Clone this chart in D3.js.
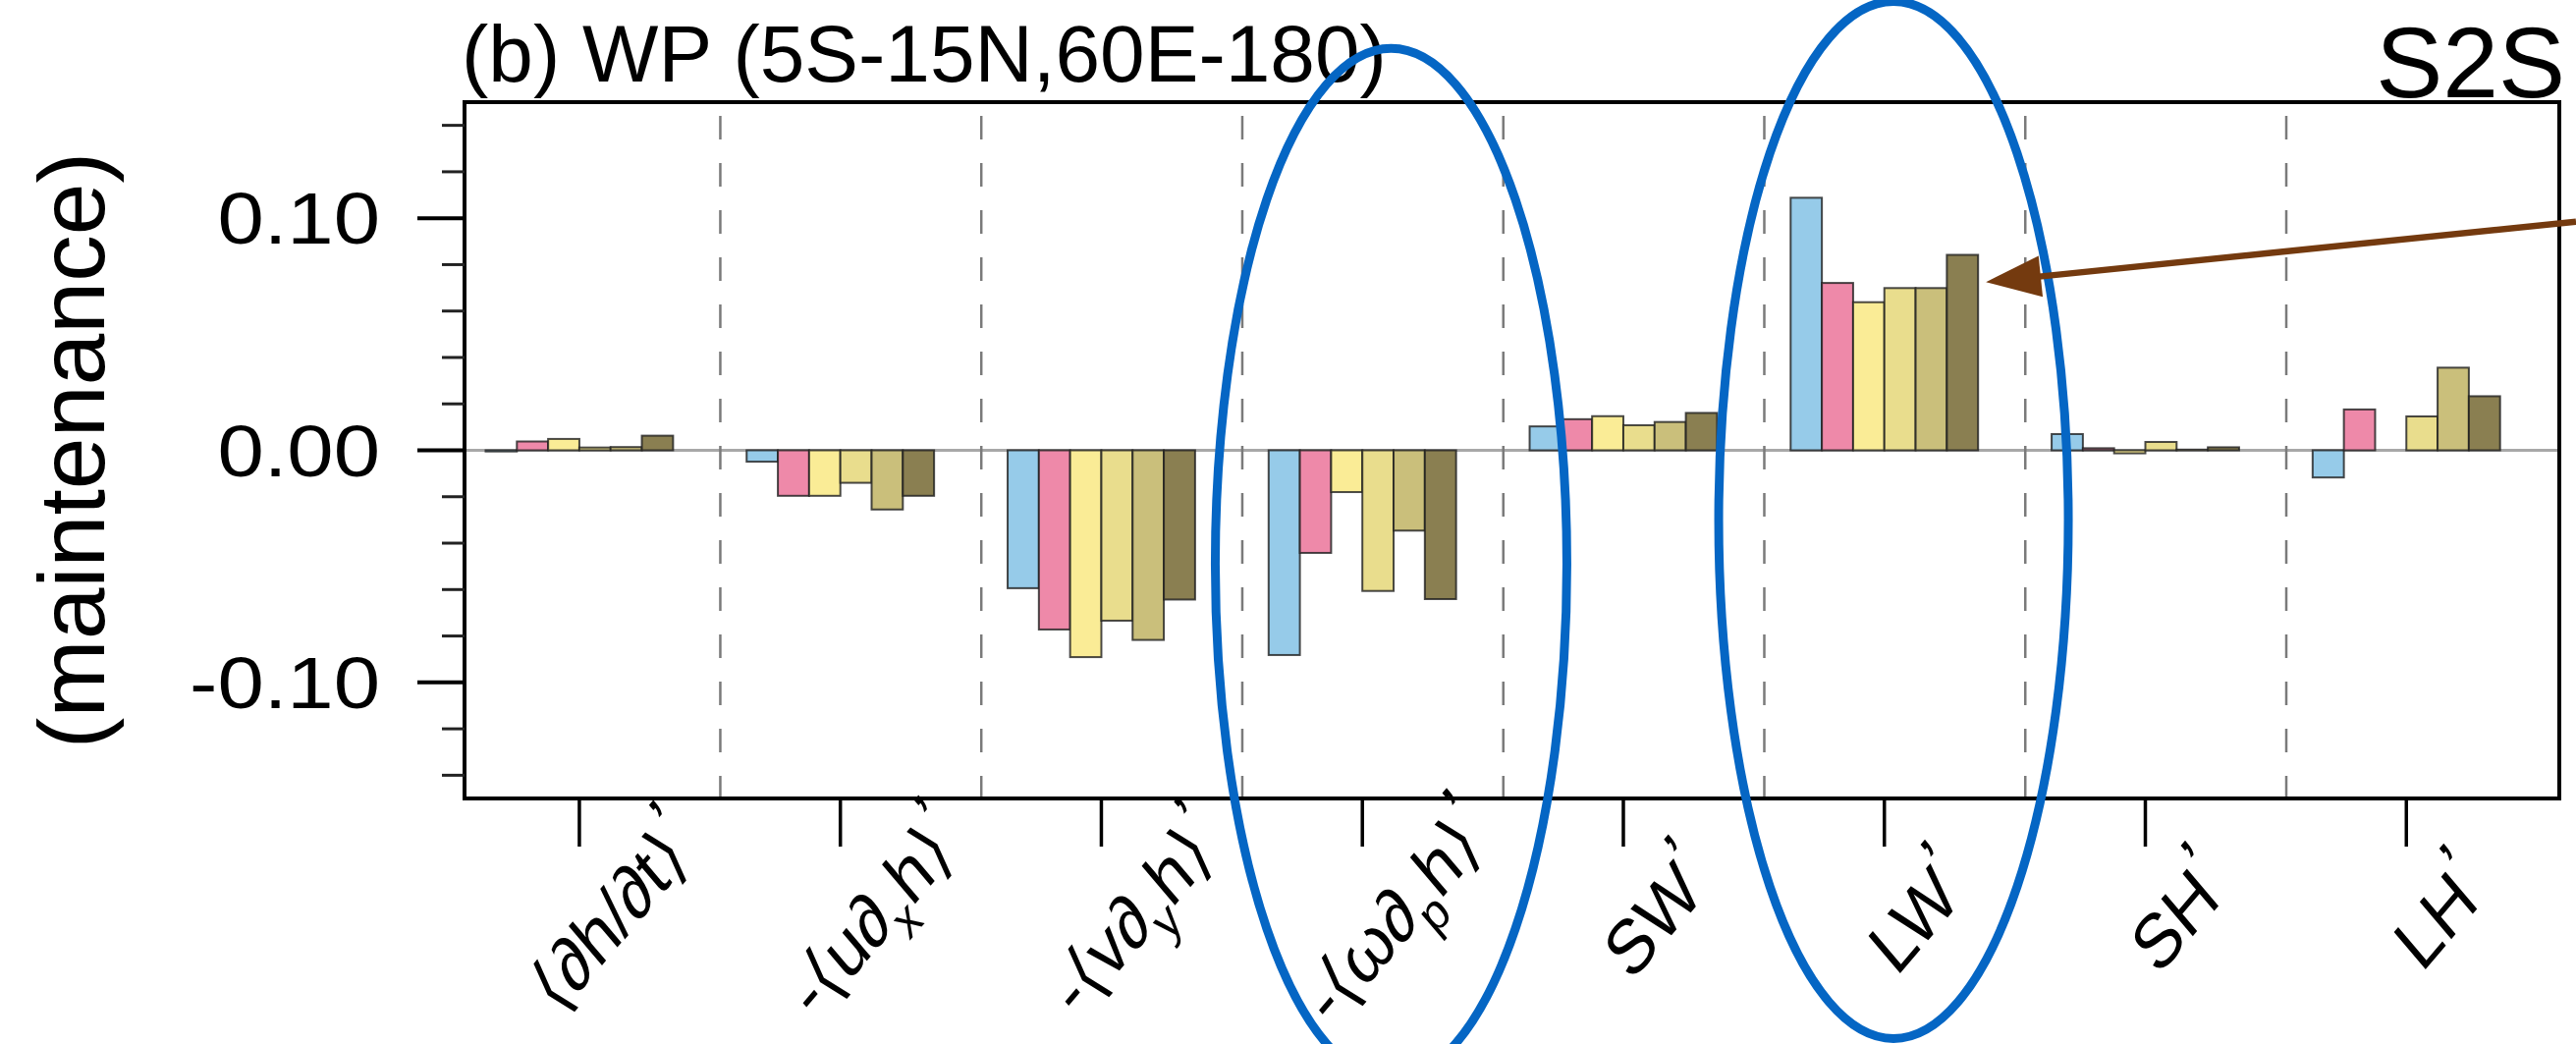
<!DOCTYPE html>
<html>
<head>
<meta charset="utf-8">
<script src="https://cdn.jsdelivr.net/npm/d3@7"></script>
<style>
  body { margin: 0; background: #fff; }
  text { font-family: "Liberation Sans", Arial, "DejaVu Sans", sans-serif; fill: #000; }
</style>
</head>
<body>
<div id="chart"></div>
<script>
const width = 2623, height = 1063;
const plot = {left: 473, right: 2606, top: 104, bottom: 813};

// MSE budget terms (x categories)
const categories = ["dhdt", "udxh", "vdyh", "wdph", "SW", "LW", "SH", "LH"];
// x tick labels: pieces of [text, kind]
const xLabels = [
  [["⟨∂h/∂t⟩", ""], ["’", "sup"]],
  [["-⟨u∂", ""], ["x", "sub"], ["h⟩", ""], ["’", "sup"]],
  [["-⟨v∂", ""], ["y", "sub"], ["h⟩", ""], ["’", "sup"]],
  [["-⟨ω∂", ""], ["p", "sub"], ["h⟩", ""], ["’", "sup"]],
  [["SW", ""], ["’", "sup"]],
  [["LW", ""], ["’", "sup"]],
  [["SH", ""], ["’", "sup"]],
  [["LH", ""], ["’", "sup"]]
];

// six series, one value per category (null = no bar)
const series1 = [-0.0005, -0.0049, -0.0594, -0.0882, 0.0103, 0.1088, 0.0070, -0.0117];
const series2 = [0.0038, -0.0196, -0.0772, -0.0442, 0.0134, 0.0721, 0.0009, 0.0176];
const series3 = [0.0049, -0.0196, -0.0891, -0.0180, 0.0147, 0.0638, -0.0013, null];
const series4 = [0.0012, -0.0140, -0.0734, -0.0606, 0.0108, 0.0699, 0.0036, 0.0146];
const series5 = [0.0014, -0.0255, -0.0817, -0.0346, 0.0122, 0.0699, 0.0003, 0.0356];
const series6 = [0.0063, -0.0196, -0.0643, -0.0641, 0.0161, 0.0842, 0.0013, 0.0233];
const allSeries = [series1, series2, series3, series4, series5, series6];
const seriesColors = ["#96cbe9", "#ee89a9", "#faec96", "#e9dd8d", "#cabf7b", "#8a7f51"];

const yMajor = [-0.10, 0.00, 0.10];
const yMajorLabels = ["-0.10", "0.00", "0.10"];
const yMinor = [-0.14, -0.12, -0.08, -0.06, -0.04, -0.02, 0.02, 0.04, 0.06, 0.08, 0.12, 0.14];

const svg = d3.select("#chart").append("svg")
    .attr("width", width)
    .attr("height", height)
    .style("display", "block");
svg.append("rect").attr("width", width).attr("height", height).attr("fill", "#fff");

// category index -> px
let x = d3.scaleLinear()
    .domain([-0.44, 7.586])
    .range([plot.left, plot.right]);
let y = d3.scaleLinear()
    .domain([-0.15, 0.15])
    .range([plot.bottom, plot.top]);
const barW = 0.1197;   // one bar, in category units

// zero line
svg.append("line")
    .attr("x1", plot.left).attr("x2", plot.right)
    .attr("y1", y(0)).attr("y2", y(0))
    .attr("stroke", "#a8a8a8").attr("stroke-width", 3);

// dashed separators between categories
svg.append("g").selectAll("line")
    .data(d3.range(categories.length - 1))
    .enter().append("line")
    .attr("x1", d => x(d + 0.54)).attr("x2", d => x(d + 0.54))
    .attr("y1", plot.top + 14).attr("y2", plot.bottom)
    .attr("stroke", "#7a7a7a").attr("stroke-width", 2.5)
    .attr("stroke-dasharray", "24,24");

// bars
allSeries.forEach((vals, j) => {
  svg.append("g").selectAll("rect")
      .data(vals.map((v, i) => ({v: v, i: i})).filter(d => d.v !== null))
      .enter().append("rect")
      .attr("x", d => x(d.i + (j - 3) * barW))
      .attr("width", d => x(d.i + (j - 2) * barW) - x(d.i + (j - 3) * barW))
      .attr("y", d => y(Math.max(0, d.v)))
      .attr("height", d => Math.abs(y(d.v) - y(0)))
      .attr("fill", seriesColors[j])
      .attr("stroke", "rgba(30,30,30,0.8)")
      .attr("stroke-width", 2);
});

// frame
svg.append("rect")
    .attr("x", plot.left).attr("y", plot.top)
    .attr("width", plot.right - plot.left).attr("height", plot.bottom - plot.top)
    .attr("fill", "none").attr("stroke", "#000").attr("stroke-width", 4);

// y ticks
svg.append("g").selectAll("line")
    .data(yMajor).enter().append("line")
    .attr("x1", plot.left - 48).attr("x2", plot.left)
    .attr("y1", d => y(d)).attr("y2", d => y(d))
    .attr("stroke", "#000").attr("stroke-width", 4);
svg.append("g").selectAll("line")
    .data(yMinor).enter().append("line")
    .attr("x1", plot.left - 23).attr("x2", plot.left)
    .attr("y1", d => y(d)).attr("y2", d => y(d))
    .attr("stroke", "#222").attr("stroke-width", 3);
svg.append("g").selectAll("text")
    .data(yMajor).enter().append("text")
    .attr("transform", d => `translate(387, ${y(d) + 26}) scale(1.15,1)`)
    .attr("text-anchor", "end")
    .style("font-size", "74px")
    .text((d, i) => yMajorLabels[i]);

// x ticks
svg.append("g").selectAll("line")
    .data(d3.range(categories.length)).enter().append("line")
    .attr("x1", d => x(d)).attr("x2", d => x(d))
    .attr("y1", plot.bottom).attr("y2", plot.bottom + 49)
    .attr("stroke", "#000").attr("stroke-width", 3.5);

// x labels, rotated and a little squeezed sideways
const fs = 78;
xLabels.forEach((parts, i) => {
  const t = svg.append("text")
      .attr("transform", `translate(${x(i) + 51}, 950) scale(0.85,1) rotate(-45)`)
      .attr("text-anchor", "middle")
      .style("font-size", fs + "px");
  let shift = 0;
  parts.forEach(([s, kind]) => {
    const target = kind === "sub" ? 0.28 : kind === "sup" ? -0.28 : 0;
    const ts = t.append("tspan").text(s).attr("dy", (target - shift) * fs);
    if (kind === "sub") ts.style("font-size", (fs * 0.68) + "px");
    shift = target;
  });
});

// y-axis title
svg.append("text")
    .attr("transform", `translate(106, ${y(0)}) rotate(-90)`)
    .attr("text-anchor", "middle")
    .style("font-size", "95px")
    .text("(maintenance)");

// titles
svg.append("text")
    .attr("x", 470).attr("y", 83)
    .style("font-size", "82px")
    .text("(b) WP (5S-15N,60E-180)");
svg.append("text")
    .attr("x", 2612).attr("y", 99)
    .attr("text-anchor", "end")
    .style("font-size", "102px")
    .text("S2S");

// annotations: ellipses around the omega and LW terms
svg.append("ellipse")
    .attr("cx", x(3 + 0.11)).attr("cy", y(-0.049))
    .attr("rx", 179).attr("ry", 525)
    .attr("fill", "none").attr("stroke", "#0566c4").attr("stroke-width", 9);
svg.append("ellipse")
    .attr("cx", x(5 + 0.035)).attr("cy", y(-0.030))
    .attr("rx", 178).attr("ry", 528)
    .attr("fill", "none").attr("stroke", "#0566c4").attr("stroke-width", 9);

// arrow pointing at the last LW bar
const tip = [x(5 + 3 * barW) + 8, y(0.0725)];
const start = [width, y(0.0985)];
const len = Math.hypot(start[0] - tip[0], start[1] - tip[1]);
const ux = (start[0] - tip[0]) / len, uy = (start[1] - tip[1]) / len;
const headL = 56, headW = 21;
const base = [tip[0] + ux * headL, tip[1] + uy * headL];
svg.append("line")
    .attr("x1", start[0]).attr("y1", start[1])
    .attr("x2", base[0] - ux * 4).attr("y2", base[1] - uy * 4)
    .attr("stroke", "#743a0f").attr("stroke-width", 6.5);
svg.append("path")
    .attr("d", `M${tip[0]},${tip[1]} L${base[0] - uy * headW},${base[1] + ux * headW} L${base[0] + uy * headW},${base[1] - ux * headW} Z`)
    .attr("fill", "#743a0f");
</script>
</body>
</html>
